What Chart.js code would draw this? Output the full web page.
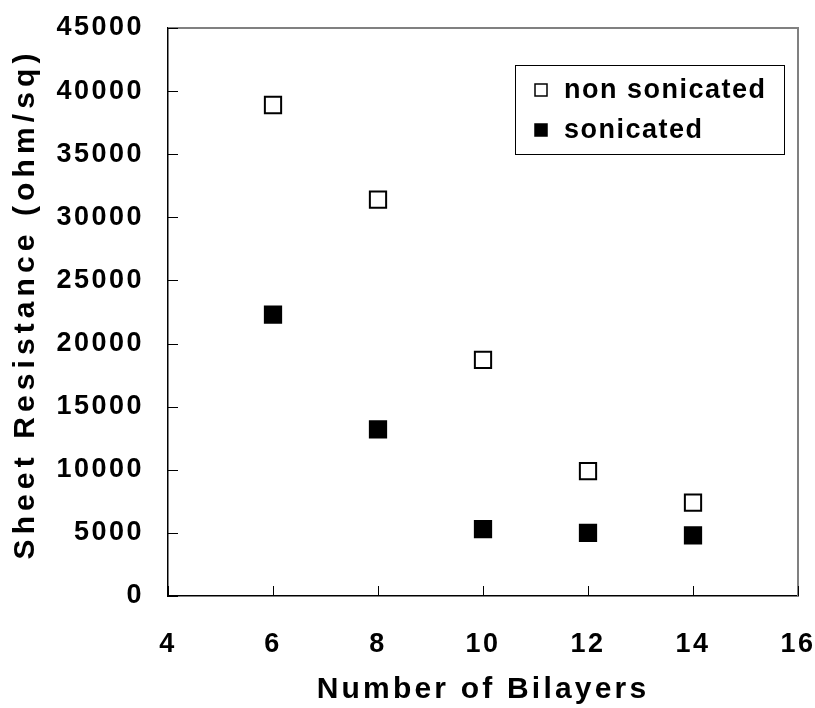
<!DOCTYPE html>
<html>
<head>
<meta charset="utf-8">
<script src="https://cdn.jsdelivr.net/npm/chart.js@4.4.1/dist/chart.umd.min.js"></script>
<style>
  html, body { margin: 0; padding: 0; background: #fff; }
  #sheetChart { display: block; }
</style>
</head>
<body>
<canvas id="sheetChart" width="815" height="708"></canvas>
<script>
// Daten
const bilayers = [6, 8, 10, 12, 14];
const nonSonicated = [38900, 31400, 18700, 9900, 7400];
const sonicated = [22300, 13200, 5300, 5000, 4800];
const seriesLabels = ['non sonicated', 'sonicated'];
const xTicks = [4, 6, 8, 10, 12, 14, 16];
const yTicks = [0, 5000, 10000, 15000, 20000, 25000, 30000, 35000, 40000, 45000];

const FONT = '"Liberation Sans", Arial, sans-serif';

function toPoints(values) {
    return bilayers.map((x, i) => ({ x: x, y: values[i] }));
}

// Achsentitel und Ticklabels mit Sperrung zeichnen
const spacedText = {
    id: 'spacedText',
    beforeDraw(chart) {
        Object.values(chart.scales).forEach(scale => {
            if (scale._spaced) return;
            const origTitle = scale.drawTitle;
            const origLabels = scale.drawLabels;
            scale.drawTitle = function () {
                const ctx = this.ctx;
                ctx.save();
                if (this.axis === 'x') {
                    ctx.letterSpacing = '3.2px';
                } else {
                    ctx.letterSpacing = '5.1px';
                    ctx.translate(0, -8);
                }
                origTitle.apply(this, arguments);
                ctx.restore();
            };
            scale.drawLabels = function () {
                const ctx = this.ctx;
                ctx.save();
                ctx.letterSpacing = '2.5px';
                origLabels.apply(this, arguments);
                ctx.restore();
            };
            scale._spaced = true;
        });
    }
};

// Rahmen oben/rechts + Ticks nach innen
const frameAndTicks = {
    id: 'frameAndTicks',
    afterDraw(chart) {
        const { ctx, chartArea: a, scales } = chart;
        ctx.save();
        ctx.strokeStyle = '#808080';
        ctx.lineWidth = 2;
        ctx.beginPath();
        ctx.moveTo(a.left, a.top);
        ctx.lineTo(a.right, a.top);
        ctx.lineTo(a.right, a.bottom);
        ctx.stroke();

        ctx.strokeStyle = '#000';
        ctx.lineWidth = 1;
        ctx.beginPath();
        scales.y.ticks.forEach(t => {
            const py = Math.round(scales.y.getPixelForValue(t.value)) + 0.5;
            ctx.moveTo(a.left, py);
            ctx.lineTo(a.left + 10, py);
        });
        scales.x.ticks.forEach(t => {
            const px = Math.round(scales.x.getPixelForValue(t.value)) + 0.5;
            ctx.moveTo(px, a.bottom);
            ctx.lineTo(px, a.bottom - 10);
        });
        ctx.stroke();
        ctx.restore();
    }
};

// Legende im Diagramm
const boxLegend = {
    id: 'boxLegend',
    afterDraw(chart) {
        const { ctx, chartArea: a } = chart;
        const left = a.right - 283, top = a.top + 37, w = 269, h = 89;
        ctx.save();
        ctx.fillStyle = '#fff';
        ctx.fillRect(left, top, w, h);
        ctx.strokeStyle = '#000';
        ctx.lineWidth = 1;
        ctx.strokeRect(left + 0.5, top + 0.5, w, h);

        chart.data.datasets.forEach((ds, i) => {
            const cy = top + 25 + i * 40;
            const mx = left + 20;
            ctx.fillStyle = ds.backgroundColor;
            ctx.fillRect(mx, cy - 6, 12, 12);
            ctx.strokeStyle = '#000';
            ctx.lineWidth = 1.5;
            ctx.strokeRect(mx, cy - 6, 12, 12);

            ctx.fillStyle = '#000';
            ctx.font = 'bold 27px ' + FONT;
            ctx.letterSpacing = '1.5px';
            ctx.textBaseline = 'middle';
            ctx.textAlign = 'left';
            ctx.fillText(ds.label, mx + 29, cy + 1);
        });
        ctx.restore();
    }
};

function noPad(scale) {
    scale.paddingLeft = 0;
    scale.paddingRight = 0;
    scale.paddingTop = 0;
    scale.paddingBottom = 0;
}

const ctx = document.getElementById('sheetChart');

new Chart(ctx, {
    type: 'scatter',
    data: {
        datasets: [
            {
                label: seriesLabels[0],
                data: toPoints(nonSonicated),
                pointStyle: 'rect',
                pointRadius: 11.5,
                pointHoverRadius: 11.5,
                backgroundColor: '#ffffff',
                borderColor: '#000000',
                borderWidth: 2,
            },
            {
                label: seriesLabels[1],
                data: toPoints(sonicated),
                pointStyle: 'rect',
                pointRadius: 11.5,
                pointHoverRadius: 11.5,
                backgroundColor: '#000000',
                borderColor: '#000000',
                borderWidth: 2,
            },
        ]
    },
    options: {
        responsive: false,
        animation: false,
        layout: {
            padding: { top: 28, right: 17, left: 0, bottom: 0 }
        },
        plugins: {
            legend: { display: false },
            tooltip: { enabled: false },
        },
        scales: {
            x: {
                type: 'linear',
                min: xTicks[0],
                max: xTicks[xTicks.length - 1],
                afterBuildTicks(scale) {
                    scale.ticks = xTicks.map(v => ({ value: v }));
                },
                afterFit(scale) { scale.height = 112; noPad(scale); },
                grid: { display: false, drawTicks: false },
                border: { display: true, color: '#000', width: 1.5 },
                ticks: {
                    color: '#000',
                    padding: 32,
                    maxRotation: 0,
                    font: { family: FONT, size: 27, weight: 'bold' },
                },
                title: {
                    display: true,
                    text: 'Number of Bilayers',
                    color: '#000',
                    font: { family: FONT, size: 30, weight: 'bold' },
                    padding: { top: 0, bottom: 0 },
                },
            },
            y: {
                type: 'linear',
                min: yTicks[0],
                max: yTicks[yTicks.length - 1],
                afterBuildTicks(scale) {
                    scale.ticks = yTicks.map(v => ({ value: v }));
                },
                afterFit(scale) { scale.width = 168; noPad(scale); },
                grid: { display: false, drawTicks: false },
                border: { display: true, color: '#000', width: 1.5 },
                ticks: {
                    color: '#000',
                    padding: 24,
                    font: { family: FONT, size: 27, weight: 'bold' },
                    callback: v => String(v),
                },
                title: {
                    display: true,
                    text: 'Sheet Resistance (ohm/sq)',
                    color: '#000',
                    font: { family: FONT, size: 30, weight: 'bold' },
                    padding: { top: 8, bottom: 0 },
                },
            },
        },
    },
    plugins: [spacedText, frameAndTicks, boxLegend],
});
</script>
</body>
</html>
